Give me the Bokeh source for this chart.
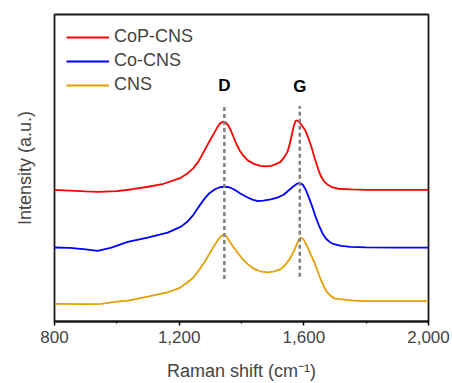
from bokeh.plotting import figure
from bokeh.models import NumeralTickFormatter, FixedTicker, Range1d, Label
from bokeh.embed import file_html
from bokeh.resources import INLINE

# ---- data ----
cop_x = [800, 850, 900, 940, 1000, 1050, 1100, 1150, 1205, 1225, 1245, 1262, 1278, 1295, 1312, 1322,
         1332, 1342, 1350, 1358, 1366, 1375, 1385, 1395, 1408, 1420, 1440, 1460, 1478, 1495, 1512,
         1525, 1537, 1548, 1556, 1563, 1569, 1574, 1580, 1588, 1596, 1605, 1615, 1625, 1635, 1645,
         1655, 1665, 1676, 1690, 1710, 1750, 1800, 1900, 2000]
cop_y = [132.4, 131.6, 130.8, 130.4, 131.0, 133.0, 135.5, 138.5, 144.5, 148.5, 154, 161, 170, 180,
         189.4, 195, 199.5, 201, 200, 197, 192, 185, 177.5, 171.5, 166, 162, 158.5, 156.5, 156,
         156.5, 158.5, 160.5, 165, 171, 180, 190, 198, 202, 202, 199.5, 196, 192, 184, 175, 164,
         154, 146, 141, 137.7, 135, 133.5, 132.8, 132.4, 132.4, 132.4]

co_x = [800, 850, 900, 938, 980, 1035, 1099, 1163, 1206, 1225, 1245, 1262, 1280, 1297, 1315, 1330,
        1345, 1360, 1377, 1395, 1415, 1435, 1452, 1470, 1494, 1515, 1535, 1550, 1565, 1578, 1587,
        1597, 1607, 1617, 1627, 1637, 1648, 1660, 1672, 1685, 1697, 1720, 1750, 1800, 1900, 2000]
co_y = [74.4, 74, 72.5, 71, 74, 80, 84.4, 89.4, 95.4, 100, 107, 115, 123, 129, 133, 135,
        135.5, 135, 132.7, 129, 125.5, 122.5, 121, 121.5, 122.7, 124.5, 127.5, 131.5, 135.5,
        138.5, 139.4, 137.5, 132, 124, 115.5, 106, 97, 88.5, 83, 79.5, 77.7, 76, 75, 74.5,
        74.2, 74.2]

cns_x = [800, 900, 950, 1000, 1035, 1099, 1163, 1200, 1227, 1245, 1262, 1280, 1296, 1310, 1322, 1333,
         1343, 1352, 1362, 1374, 1387, 1403, 1420, 1440, 1460, 1484, 1505, 1526, 1542, 1555, 1567,
         1578, 1586, 1592, 1600, 1610, 1620, 1633, 1645, 1656, 1666, 1676, 1687, 1700, 1730, 1760,
         1810, 1900, 2000]
cns_y = [17.7, 17.5, 17.7, 20, 21, 25, 29.4, 33.5, 39.4, 44, 51, 59, 67.5, 75, 81, 85.5,
         87, 85.5, 80.5, 75, 69.4, 63, 57.7, 53, 50.5, 49.4, 50.5, 52.7, 57.5, 63, 70,
         78, 83, 84.4, 82, 76, 69, 60, 50, 41, 34, 29, 25.5, 23, 22, 21,
         20.5, 20.5, 20.5]

band_names = ["D", "G"]
band_pos = [1345, 1587]
band_y0 = [42.7, 45.0]
band_y1 = [216.7, 216.7]
band_label_y = [237.7, 236.7]

x_ticks = [800, 1200, 1600, 2000]

FONT = "Liberation Sans"

p = figure(width=452, height=383, output_backend="svg", toolbar_location=None,
           x_range=Range1d(800, 2000), y_range=Range1d(0, 308.7),
           min_border_left=54, min_border_right=24, min_border_top=14, min_border_bottom=60)
p.background_fill_color = "white"
p.border_fill_color = "white"
p.grid.visible = False
p.outline_line_color = "#1a1a1a"
p.outline_line_width = 1.8
p.outline_line_alpha = 1

p.line(cop_x, cop_y, color="#ff0000", line_width=1.8, legend_label="CoP-CNS")
p.line(co_x, co_y, color="#0000ff", line_width=1.8, legend_label="Co-CNS")
p.line(cns_x, cns_y, color="#e69f00", line_width=1.8, legend_label="CNS")

p.segment(x0=band_pos, y0=band_y0, x1=band_pos, y1=band_y1, line_color="#808080",
          line_width=2.5, line_dash="4 3")
for name, xp, yp in zip(band_names, band_pos, band_label_y):
    p.add_layout(Label(x=xp, y=yp, text=name, text_font=FONT, text_font_size="17px",
                       text_font_style="bold", text_align="center", text_baseline="middle",
                       text_color="black"))

# x axis
xa = p.xaxis[0]
xa.ticker = FixedTicker(ticks=x_ticks, minor_ticks=[1000, 1400, 1800])
xa.formatter = NumeralTickFormatter(format="0,0")
xa.axis_label = "Raman shift (cm\u207b\u00b9)"
xa.axis_label_text_font = FONT
xa.axis_label_text_font_size = "18px"
xa.axis_label_text_font_style = "normal"
xa.axis_label_standoff = 15
xa.major_label_text_font = FONT
xa.major_label_text_font_size = "17px"
xa.major_label_standoff = 5
xa.axis_line_width = 1.8
xa.axis_line_color = "#1a1a1a"
xa.major_tick_in = 0
xa.major_tick_out = 4
xa.minor_tick_in = 0
xa.minor_tick_out = 2
xa.major_tick_line_width = 1.5
xa.minor_tick_line_width = 1.2

# y axis
ya = p.yaxis[0]
ya.ticker = FixedTicker(ticks=[])
ya.axis_line_color = None
ya.major_tick_line_color = None
ya.minor_tick_line_color = None
ya.axis_label = "Intensity (a.u.)"
ya.axis_label_text_font = FONT
ya.axis_label_text_font_size = "18px"
ya.axis_label_text_font_style = "normal"
ya.axis_label_standoff = 20

lg = p.legend[0]
lg.location = "top_left"
lg.margin = 0
lg.padding = 12
lg.spacing = 3
lg.border_line_alpha = 0
lg.background_fill_alpha = 0
lg.label_text_font = FONT
lg.label_text_font_size = "18px"
lg.glyph_width = 43
lg.label_standoff = 5
lg.label_height = 20
lg.glyph_height = 20

open("out.html", "w").write(file_html(p, INLINE))
